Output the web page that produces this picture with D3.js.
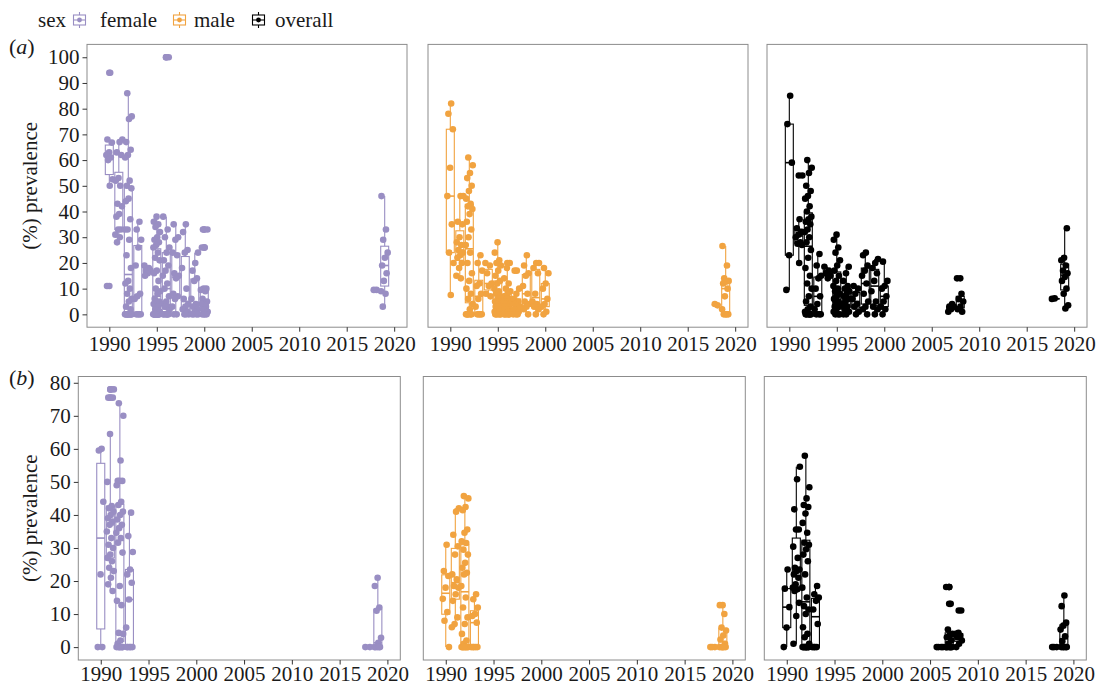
<!DOCTYPE html>
<html>
<head>
<meta charset="utf-8">
<script src="https://cdn.jsdelivr.net/npm/d3@7"></script>
<style>
    body { margin: 0; background: #fff; }
    svg text { font-family: "Liberation Serif", "Times New Roman", serif; fill: #1a1a1a; }
</style>
</head>
<body>
<svg id="chart" width="1097" height="687"></svg>
<script>
// tick labels
const xTicks = [1990, 1995, 2000, 2005, 2010, 2015, 2020];
const yTicksA = [0, 10, 20, 30, 40, 50, 60, 70, 80, 90, 100];
const yTicksB = [0, 10, 20, 30, 40, 50, 60, 70, 80];

const sexes = ["female", "male", "overall"];
const colours = ["#998ec3", "#f1a340", "#000000"];

// (a) prevalence by year
const femaleA = [
    [1990, [94, 68, 66.8, 63, 62, 61, 60, 52.5, 50, 11]],
    [1991, [68, 67, 63, 62, 53, 52, 50, 43, 42, 39, 38, 33, 33, 31, 30, 28]],
    [1992, [86, 77, 76, 67, 64, 62, 61, 52, 50, 49, 45, 44, 37, 33, 33, 29, 23, 18, 13, 12, 10, 8, 6, 5, 3, 2, 0, 0, 0, 0, 0, 0, 0, 0, 0, 0]],
    [1993, [36, 33, 29, 26, 19, 8, 7, 6, 0, 0, 0, 0]],
    [1994, [19, 18, 17, 17, 16, 15]],
    [1995, [38, 36, 35, 34, 32, 30, 29, 28, 27, 26, 24, 22, 21, 17, 16, 13, 10, 9, 8, 6, 5, 5, 4, 3, 2, 1, 0, 0, 0, 0, 0, 0, 0, 0, 0, 0, 0, 0]],
    [1996, [100, 100, 38, 33, 30, 26, 24, 21, 19, 17, 15, 12, 10, 7, 5, 4, 3, 3, 2, 0, 0, 0, 0, 0, 0]],
    [1997, [35, 30, 29, 24, 23, 16, 15, 14, 8, 7, 6, 3, 0, 0]],
    [1998, [35, 32, 25, 24, 18, 10, 6, 4, 3, 2, 1, 0, 0, 0]],
    [1999, [24, 20, 17, 14, 13, 6, 4, 3, 2, 1, 0, 0, 0, 0]],
    [2000, [33, 33, 26, 26, 10, 10, 9.5, 9, 6, 5, 4, 4, 3, 2, 1, 0, 0, 0, 0]],
    [2018, [9.5, 9.5]],
    [2019, [46, 33, 29, 24, 22, 19, 16, 13, 9, 8, 3]]
];
const maleA = [
    [1990, [82, 78, 72, 57, 46, 35, 24, 20, 7.5]],
    [1991, [46, 46, 36, 35, 30, 28, 27, 25, 24, 23, 22, 20, 18, 15, 14]],
    [1992, [61, 58, 55, 53, 50, 48, 45, 43, 42, 41, 39, 36, 33, 30, 27, 24, 20, 16, 13, 10, 8, 6, 4, 2, 0, 0, 0, 0, 0, 0]],
    [1993, [23, 20, 17, 12, 11, 8, 6, 3, 0, 0, 0, 0]],
    [1994, [20, 19, 16, 12, 11, 8, 7]],
    [1995, [28, 24, 21, 20, 19, 17, 15, 13, 12, 10, 9, 8, 7, 6, 5, 5, 4, 4, 3, 3, 2, 2, 1, 1, 0, 0, 0, 0, 0]],
    [1996, [20, 18, 14, 12, 10, 9, 8, 7, 6, 6, 5, 5, 4, 4, 3, 3, 2, 2, 1, 1, 0, 0, 0, 0, 0]],
    [1997, [17, 10, 8, 6, 5, 4, 3, 3, 2, 1, 0, 0, 0]],
    [1998, [23, 19, 16, 15, 11, 8, 5, 4, 3, 2, 0]],
    [1999, [20, 20, 18, 16, 8, 5, 4, 3, 2, 0]],
    [2000, [18, 16, 12, 10, 6, 4, 3, 1, 0]],
    [2018, [3.5, 4]],
    [2019, [26.6, 19, 14, 13, 12.7, 12, 10, 7, 2, 0, 0, 0, 0]]
];
const overallA = [
    [1990, [85, 74, 59, 23, 9.5]],
    [1991, [54, 37, 33.5, 32, 31, 30, 28, 27.5, 27, 20]],
    [1992, [60, 57, 55, 50, 48, 46, 45, 42, 40, 38, 37, 36, 35, 33, 32, 30, 28, 25, 22, 18, 15, 12, 10, 7, 5, 3, 2, 1, 0, 0, 0, 0, 0, 0]],
    [1993, [23.5, 19, 15, 14, 10, 7, 4, 2, 0, 0, 0]],
    [1994, [18.5, 17, 16, 15, 14]],
    [1995, [31, 29, 26, 24, 21, 19, 17, 15, 13, 11, 10, 9, 8, 7, 6, 5, 5, 4, 4, 3, 3, 2, 1, 0, 0, 0]],
    [1996, [18.5, 16, 13, 11, 10, 9, 8, 7, 6, 5, 4, 3, 2, 1, 0, 0]],
    [1997, [11, 10, 8, 6, 4, 3, 1, 0]],
    [1998, [24, 23, 19, 17, 15, 12, 8, 5, 3, 2, 0]],
    [1999, [21.5, 20, 18, 16, 13, 9, 5, 3, 2, 0]],
    [2000, [20.5, 13, 11, 10, 7, 5, 3, 2, 0]],
    [2007, [4, 3, 3, 2, 1]],
    [2008, [14, 8, 6, 5, 3, 2, 1]],
    [2018, [6.2, 6]],
    [2019, [33.5, 22, 21, 19, 17, 16, 14.5, 13, 10, 8, 3.5, 2.3]]
];

// (b)
const femaleB = [
    [1990, [60, 59.5, 44, 22, 0, 0]],
    [1991, [78, 78, 75.5, 75.5, 64.5, 50, 42.7, 42, 41, 40, 39, 38, 37, 35, 33, 31, 30, 28, 27, 26, 24, 23, 21, 19, 17]],
    [1992, [73.8, 70, 56.5, 50.3, 50.3, 50.3, 49, 44, 43, 41, 40, 38.6, 37, 36, 34.6, 33, 31.6, 28.6, 18.5, 14, 12.7, 4.3, 4, 2, 1, 0, 0, 0, 0, 0, 0, 0]],
    [1993, [40.7, 33.6, 28.8, 23.5, 22, 19.5, 14.4, 5.9, 0, 0, 0, 0, 0]],
    [2018, [0, 0]],
    [2019, [21, 18.5, 12, 11, 2.8, 1.3, 0, 0, 0, 0, 0]]
];
const maleB = [
    [1990, [31, 23, 21.5, 18, 14.6, 10.6, 8, 0]],
    [1991, [42, 41, 34, 30.5, 28, 22, 20.5, 18.5, 18, 16, 14, 9, 7, 6]],
    [1992, [45.7, 45, 42.4, 41.4, 35.6, 34.6, 32, 31.5, 29.5, 28, 25.5, 24, 22.5, 22, 18.5, 15, 12, 9, 7, 4, 2, 1, 0, 0, 0, 0, 0, 0, 0, 0]],
    [1993, [16, 14.5, 12, 10, 9.4, 7.4, 0, 0, 0, 0, 0]],
    [2018, [0, 0, 0]],
    [2019, [12.7, 12.7, 10, 5.9, 5, 3.5, 2.3, 1, 0, 0, 0, 0, 0, 0]]
];
const overallB = [
    [1990, [23.5, 17.7, 12.1, 5.9, 0]],
    [1991, [54.6, 50.8, 41.7, 35.6, 35.6, 30.4, 27, 24, 23.5, 23, 22, 21, 19, 18, 17.5, 17, 13.4, 9.4, 1]],
    [1992, [57.9, 48.4, 45, 43, 42.4, 40.4, 37.6, 34.6, 31.6, 31, 29.6, 28, 26, 22, 18, 15, 12.4, 11.4, 10, 6, 4, 3, 1, 0, 0, 0, 0, 0, 0, 0, 0, 0]],
    [1993, [18.5, 16, 15, 14, 11.4, 7, 0, 0, 0, 0]],
    [2006, [0, 0, 0, 0]],
    [2007, [18.2, 18.2, 13.1, 5.3, 4, 3.5, 3, 2, 1, 0, 0, 0, 0, 0, 0, 0]],
    [2008, [11.1, 4.3, 4, 3.5, 3, 2, 1, 0]],
    [2018, [0, 0, 0]],
    [2019, [15.6, 12.4, 7.4, 6.5, 5.3, 3.3, 1.8, 0, 0, 0, 0, 0]]
];

const rows = [
    { tag: "a", top: 44.4, height: 282.8, width: 320, lefts: [87, 428, 767], yDomain: [-5, 105], yTicks: yTicksA,
      pad: 4, series: [femaleA, maleA, overallA] },
    { tag: "b", top: 376.5, height: 283.5, width: 322, lefts: [78.3, 423.3, 764.3], yDomain: [-3.9, 81.9], yTicks: yTicksB,
      pad: 2, series: [femaleB, maleB, overallB] }
];

const svg = d3.select("#chart");
const boxHalf = 0.42;
const jitterWidth = 0.38;
const radius = 3.3;

function boxStats(vals) {
    let s = vals.slice().sort(d3.ascending);
    let q1 = d3.quantile(s, 0.25), med = d3.quantile(s, 0.5), q3 = d3.quantile(s, 0.75);
    let iqr = q3 - q1;
    let inside = s.filter(v => v >= q1 - 1.5 * iqr && v <= q3 + 1.5 * iqr);
    return {
        q1: q1, med: med, q3: q3,
        lo: d3.min(inside), hi: d3.max(inside),
        out: s.filter(v => v < q1 - 1.5 * iqr || v > q3 + 1.5 * iqr)
    };
}

rows.forEach(function (row, r) {
    let y = d3.scaleLinear().domain(row.yDomain).range([row.top + row.height, row.top]);

    row.series.forEach(function (groups, c) {
        let left = row.lefts[c];
        let colour = colours[c];
        let x = d3.scaleLinear().domain([1987.65, 2021.35]).range([left, left + row.width]);

        let g = svg.append("g");

        // boxes first
        let boxes = g.append("g");
        groups.forEach(function (grp) {
            let yr = grp[0], st = boxStats(grp[1]);
            boxes.append("line")
                .attr("x1", x(yr)).attr("x2", x(yr))
                .attr("y1", y(st.hi)).attr("y2", y(st.q3))
                .attr("stroke", colour).attr("stroke-width", 1.1);
            boxes.append("line")
                .attr("x1", x(yr)).attr("x2", x(yr))
                .attr("y1", y(st.q1)).attr("y2", y(st.lo))
                .attr("stroke", colour).attr("stroke-width", 1.1);
            boxes.append("rect")
                .attr("x", x(yr - boxHalf))
                .attr("width", x(yr + boxHalf) - x(yr - boxHalf))
                .attr("y", y(st.q3))
                .attr("height", Math.max(0.5, y(st.q1) - y(st.q3)))
                .attr("fill", "#fff")
                .attr("stroke", colour).attr("stroke-width", 1.1);
            boxes.append("line")
                .attr("x1", x(yr - boxHalf)).attr("x2", x(yr + boxHalf))
                .attr("y1", y(st.med)).attr("y2", y(st.med))
                .attr("stroke", colour).attr("stroke-width", 1.6);
            boxes.selectAll(null)
                .data(st.out)
                .enter().append("circle")
                .attr("cx", x(yr))
                .attr("cy", d => y(d))
                .attr("r", radius)
                .attr("fill", colour);
        });

        // jittered points
        let pts = g.append("g");
        groups.forEach(function (grp, gi) {
            pts.selectAll(null)
                .data(grp[1])
                .enter().append("circle")
                .attr("cx", function (d, i) {
                    let off = (((i + 1) * 0.618034 + gi * 0.37) % 1 - 0.5) * 2 * jitterWidth;
                    return x(grp[0] + off);
                })
                .attr("cy", d => y(d))
                .attr("r", radius)
                .attr("fill", colour);
        });

        // panel border
        svg.append("rect")
            .attr("x", left).attr("y", row.top)
            .attr("width", row.width).attr("height", row.height)
            .attr("fill", "none")
            .attr("stroke", "#8c8c8c").attr("stroke-width", 1);

        // x axis
        let xAxis = svg.append("g")
            .attr("transform", "translate(0," + (row.top + row.height) + ")")
            .call(d3.axisBottom(x).tickValues(xTicks).tickFormat(d3.format("d")).tickSize(4.5).tickPadding(row.pad));
        xAxis.select(".domain").remove();
        xAxis.selectAll("line").attr("stroke", "#333");
        xAxis.selectAll("text").attr("font-size", 21).attr("fill", "#1a1a1a");

        if (c === 0) {
            let yAxis = svg.append("g")
                .attr("transform", "translate(" + left + ",0)")
                .call(d3.axisLeft(y).tickValues(row.yTicks).tickSize(4.5).tickPadding(3));
            yAxis.select(".domain").remove();
            yAxis.selectAll("line").attr("stroke", "#333");
            yAxis.selectAll("text").attr("font-size", 21).attr("fill", "#1a1a1a");

            svg.append("text")
                .attr("transform", "translate(37," + (row.top + row.height / 2) + ") rotate(-90)")
                .attr("text-anchor", "middle")
                .attr("font-size", 21)
                .text("(%) prevalence");

            let tag = svg.append("text")
                .attr("x", 9)
                .attr("y", row.top + (r === 0 ? 10 : 8))
                .attr("font-size", 22);
            tag.append("tspan").text("(");
            tag.append("tspan").attr("font-style", "italic").text(row.tag);
            tag.append("tspan").text(")");
        }
    });
});

// legend
let legend = svg.append("g");
legend.append("text").attr("x", 38).attr("y", 27).attr("font-size", 21).text("sex");
let keyX = [79.5, 179.5, 258.5];
let labX = [100, 194, 275];
sexes.forEach(function (s, i) {
    let k = legend.append("g").attr("transform", "translate(" + keyX[i] + ",20)");
    k.append("line").attr("x1", 0).attr("x2", 0).attr("y1", -8).attr("y2", 8)
        .attr("stroke", colours[i]).attr("stroke-width", 1.1);
    k.append("rect").attr("x", -6).attr("y", -5).attr("width", 12).attr("height", 10)
        .attr("fill", "#fff").attr("stroke", colours[i]).attr("stroke-width", 1.1);
    k.append("line").attr("x1", -6).attr("x2", 6).attr("y1", 0).attr("y2", 0)
        .attr("stroke", colours[i]).attr("stroke-width", 1.1);
    k.append("circle").attr("r", 2.4).attr("fill", colours[i]);
    legend.append("text").attr("x", labX[i]).attr("y", 27).attr("font-size", 21).text(s);
});
</script>
</body>
</html>
